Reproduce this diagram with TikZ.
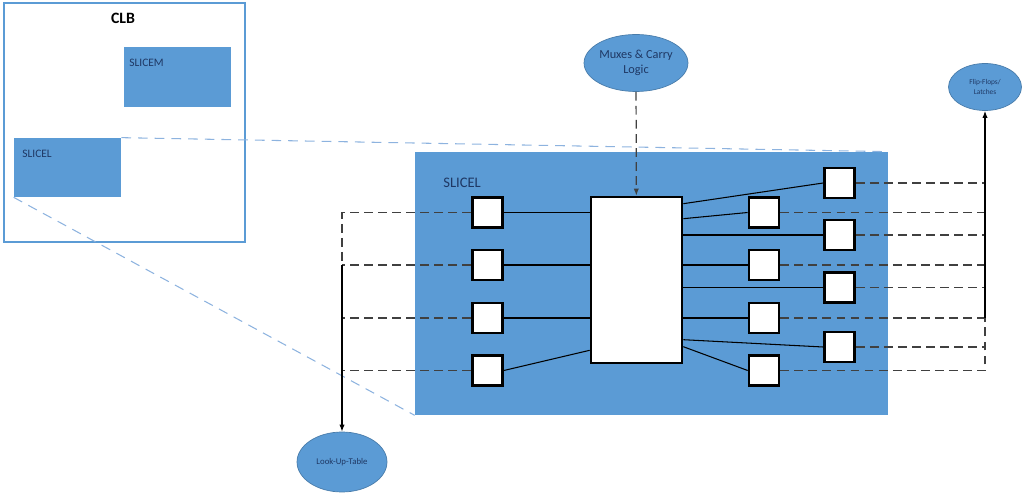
\documentclass[tikz,border=0pt]{standalone}
\usepackage{fontspec}
\setmainfont{Carlito}
\usetikzlibrary{shapes.geometric,arrows.meta,calc}

\definecolor{sliceblue}{HTML}{5B9BD5}
\definecolor{zoomblue}{HTML}{8DB3DF}
\definecolor{labelblue}{HTML}{1F3864}
\definecolor{wiregray}{HTML}{404040}

\newcommand{\wirew}{0.6pt}

\begin{document}
\begin{tikzpicture}[x=0.02cm, y=-0.02cm,
  cell/.style = {draw, line width=1.5pt, fill=white, minimum size=0.6cm, inner sep=0pt},
  slicebox/.style = {fill=sliceblue, inner sep=0pt},
  blob/.style = {ellipse, fill=sliceblue, draw=sliceblue!80!black, line width=0.4pt, inner sep=0pt, text=labelblue, align=center},
  wire/.style = {line width=\wirew, black},
  dwire/.style = {line width=0.7pt, wiregray, dash pattern=on 5pt off 3pt},
  zoomline/.style = {zoomblue, line width=0.6pt, dash pattern=on 5.5pt off 4pt},
  tip/.style = {-{Latex[length=4pt,width=3pt]}}]
\useasboundingbox (0,0) rectangle (1024,496);

% CLB with its two slices
\node (clb) [draw=sliceblue, line width=1.2pt, minimum width=4.82cm, minimum height=4.78cm, inner sep=0pt] at (124.5,122.5) {};
\node (clbname) [font=\fontsize{9}{10}\selectfont\bfseries] at (123,18) {CLB};
\node (slicem) [slicebox, minimum width=2.14cm, minimum height=1.2cm] at (177.5,77) {};
\node (slicel) [slicebox, minimum width=2.14cm, minimum height=1.18cm] at (67.5,167.5) {};
\node (slicemname) [anchor=west, inner sep=0pt, text=labelblue, font=\fontsize{6.5}{7}\selectfont] at (129,63) {SLICEM};
\node (slicelname) [anchor=west, inner sep=0pt, text=labelblue, font=\fontsize{6.5}{7}\selectfont] at (22,154) {SLICEL};

% zoomed slice
\node (big) [slicebox, minimum width=9.46cm, minimum height=5.26cm] at (651.5,283.5) {};
\node (bigname) [anchor=west, inner sep=0pt, text=labelblue, font=\fontsize{8.3}{9}\selectfont] at (443,183) {SLICEL};
\draw [zoomline] (slicel.north east) -- (big.north east);
\draw [zoomline] (slicel.south west) -- (big.south west);

% logic block
\node (blk) [cell, minimum width=1.82cm, minimum height=3.32cm] at (636.5,280) {};

% input cells
\node (l1) [cell] at (487.5,212.5) {};
\node (l2) [cell] at (487.5,265) {};
\node (l3) [cell] at (487.5,318) {};
\node (l4) [cell] at (487.5,370.5) {};

% output cells
\node (m1) [cell] at (764,212.5) {};
\node (m2) [cell] at (764,265) {};
\node (m3) [cell] at (764,318) {};
\node (m4) [cell] at (764,370.5) {};
\node (f1) [cell] at (839.5,183) {};
\node (f2) [cell] at (839.5,235) {};
\node (f3) [cell] at (839.5,287.5) {};
\node (f4) [cell] at (839.5,347) {};

% ellipses
\node (mux) [blob, minimum width=1.82cm, minimum height=1.14cm, font=\fontsize{7}{8.5}\selectfont] at (636,63) {Muxes \& Carry\\Logic};
\node (lut) [blob, minimum width=1.8cm, minimum height=1.2cm, font=\fontsize{5}{6}\selectfont] at (342,462) {Look-Up-Table};
\node (ff) [blob, minimum width=1.46cm, minimum height=0.94cm, font=\fontsize{4.2}{5.5}\selectfont] at (985,87) {Flip-Flops/\\Latches};

% block inputs
\draw [wire] (l1.east) -- (l1 -| blk.west);
\draw [wire] (l2.east) -- (l2 -| blk.west);
\draw [wire] (l3.east) -- (l3 -| blk.west);
\draw [wire] (l4.east) -- ($(blk.south west)+(0,-14)$);

% block outputs
\draw [wire] ($(blk.north east)+(0,8)$) -- (f1.west);
\draw [wire] ($(blk.north east)+(0,23)$) -- (m1.west);
\draw [wire] (f2.west) -- (f2 -| blk.east);
\draw [wire] (m2.west) -- (m2 -| blk.east);
\draw [wire] (f3.west) -- (f3 -| blk.east);
\draw [wire] (m3.west) -- (m3 -| blk.east);
\draw [wire] ($(blk.north east)+(0,144)$) -- (f4.west);
\draw [wire] ($(blk.north east)+(0,151)$) -- (m4.west);

% to the look-up-table
\draw [dwire] (l1.west) -| (l2 -| lut);
\draw [dwire] (l2.west) -- (l2 -| lut);
\draw [dwire] (l3.west) -- (l3 -| lut);
\draw [dwire] (l4.west) -- (l4 -| lut);
\draw [wire, tip] (l2 -| lut) -- (lut);

% to the flip-flops
\draw [dwire] (f1.east) -- (f1 -| ff);
\draw [dwire] (m1.east) -- (m1 -| ff);
\draw [dwire] (f2.east) -- (f2 -| ff);
\draw [dwire] (m2.east) -- (m2 -| ff);
\draw [dwire] (f3.east) -- (f3 -| ff);
\draw [dwire] (m3.east) -- (m3 -| ff);
\draw [dwire] (f4.east) -- (f4 -| ff);
\draw [dwire] (m4.east) -| (m3 -| ff);
\draw [wire, tip] (m3 -| ff) -- (ff);

% from the muxes
\draw [dwire, tip] (mux) -- (blk);
\end{tikzpicture}
\end{document}
